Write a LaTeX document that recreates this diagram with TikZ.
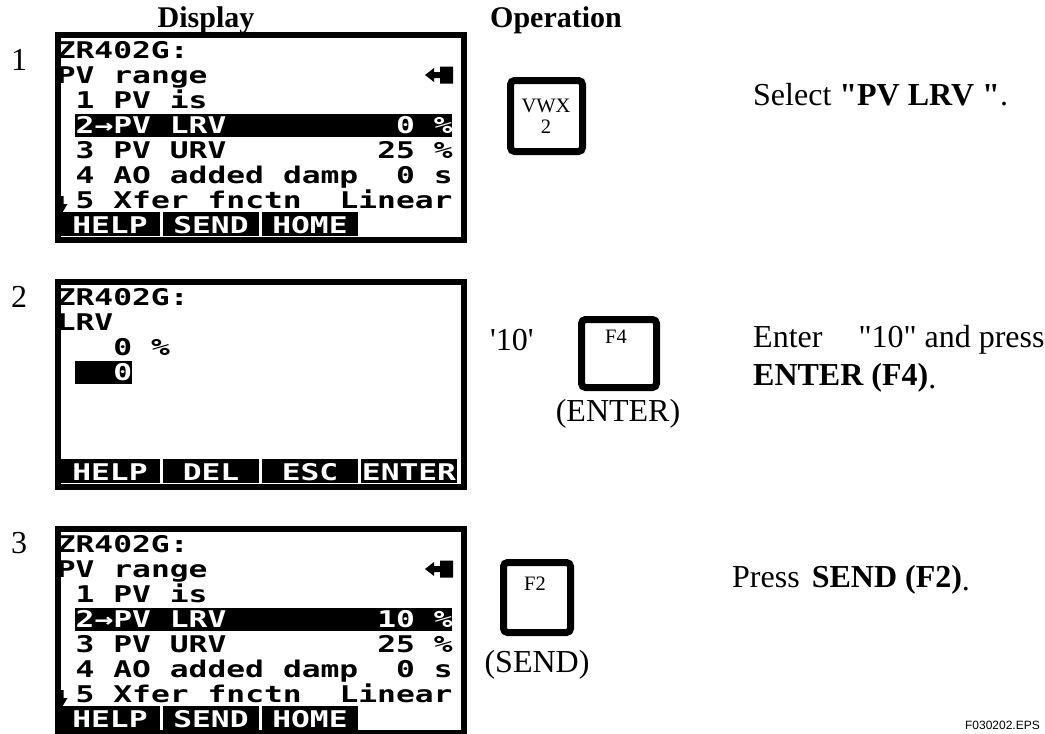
\documentclass[tikz,border=0pt]{standalone}
\usepackage{fontspec}
\setmainfont{Liberation Serif}[Ligatures=TeXOff]
\newfontfamily\lcdfont{DejaVu Sans Mono}[FakeStretch=1.36]
\newfontfamily\epsfont{Liberation Sans}

\begin{document}
\begin{tikzpicture}[x=1pt,y=-1pt,
  lcd/.style={anchor=base west,inner sep=0pt,font=\lcdfont\bfseries\fontsize{23}{23}\selectfont},
  inv/.style={lcd,text=white},
  softkey/.style={inv,anchor=base},
  screen/.style={line width=6pt},
  keybox/.style={line width=7pt,rounded corners=4pt},
  txt/.style={anchor=base west,inner sep=0pt,font=\fontsize{32}{38}\selectfont},
  head/.style={anchor=base,inner sep=0pt,font=\bfseries\fontsize{30}{36}\selectfont},
  num/.style={anchor=base,inner sep=0pt,font=\fontsize{32}{38}\selectfont},
  keylbl/.style={anchor=base,inner sep=0pt,font=\fontsize{20.5}{22}\selectfont}]
\useasboundingbox (0,0) rectangle (1045,734);

\node (hdisp) at (206,27)[head]{Display};
\node (hop) at (556,27)[head]{Operation};
\node (n1) at (19,70)[num]{1};
\node (n2) at (19,307)[num]{2};
\node (n3) at (19,553)[num]{3};

% screen 1
\draw[screen] (57.5,35) rectangle (463.5,240);
\node (a1) at (56.6,58.4)[lcd]{ZR402G:};
\node (a2) at (56.6,83.4)[lcd]{PV}; \node (a3) at (113.15,83.4)[lcd]{range};
\fill[shift={(0,75)}] (425,0)--(434,-7)--(434,-3)--(440,-3)--(440,-8.5)--(453,-8.5)--(453,8.5)--(440,8.5)--(440,3)--(434,3)--(434,7)--cycle;
\node (a4) at (75.45,108.4)[lcd]{1}; \node (a5) at (113.15,108.4)[lcd]{PV}; \node (a6) at (169.7,108.4)[lcd]{is};
\fill (75.45,114) rectangle (452.45,137);
\node (a7) at (75.45,133.4)[inv]{2}; \node (a8) at (94.3,133.4)[inv]{→};
\node (a9) at (113.15,133.4)[inv]{PV}; \node (a10) at (169.7,133.4)[inv]{LRV};
\node (a11) at (395.9,133.4)[inv]{0}; \node (a12) at (433.6,133.4)[inv]{\%};
\node (a13) at (75.45,158.4)[lcd]{3}; \node (a14) at (113.15,158.4)[lcd]{PV}; \node (a15) at (169.7,158.4)[lcd]{URV};
\node (a16) at (377.05,158.4)[lcd]{25}; \node (a17) at (433.6,158.4)[lcd]{\%};
\node (a18) at (75.45,183.4)[lcd]{4}; \node (a19) at (113.15,183.4)[lcd]{AO}; \node (a20) at (169.7,183.4)[lcd]{added};
\node (a21) at (282.8,183.4)[lcd]{damp}; \node (a22) at (395.9,183.4)[lcd]{0}; \node (a23) at (433.6,183.4)[lcd]{s};
\fill[shift={(0,200)}] (60.5,-4)--(63.5,-4)--(63.5,4)--(67.5,4)--(62,13)--(56.5,4)--(60.5,4)--cycle;
\node (a24) at (75.45,208.4)[lcd]{5}; \node (a25) at (113.15,208.4)[lcd]{Xfer};
\node (a26) at (207.4,208.4)[lcd]{fnctn}; \node (a27) at (339.35,208.4)[lcd]{Linear};
\fill (60,212) rectangle (160,236); \fill (163,212) rectangle (259,236); \fill (262,212) rectangle (358,236);
\node (a28) at (110,233.4)[softkey]{HELP}; \node (a29) at (211,233.4)[softkey]{SEND}; \node (a30) at (310,233.4)[softkey]{HOME};

% screen 2
\draw[screen] (57.5,282) rectangle (463.5,487);
\node (b1) at (56.6,305.4)[lcd]{ZR402G:};
\node (b2) at (56.6,330.4)[lcd]{LRV};
\node (b3) at (113.15,355.4)[lcd]{0}; \node (b4) at (150.85,355.4)[lcd]{\%};
\fill (75.45,361) rectangle (132,384);
\node (b5) at (113.15,380.4)[inv]{0};
\fill (60,459) rectangle (160,483); \fill (163,459) rectangle (259,483);
\fill (262,459) rectangle (358,483); \fill (361,459) rectangle (457,483);
\node (b6) at (110,480.4)[softkey]{HELP}; \node (b7) at (211,480.4)[softkey]{DEL};
\node (b8) at (310,480.4)[softkey]{ESC}; \node (b9) at (409,480.4)[softkey]{ENTER};

% screen 3
\draw[screen] (57.5,529) rectangle (463.5,733);
\node (c1) at (56.6,552.4)[lcd]{ZR402G:};
\node (c2) at (56.6,577.4)[lcd]{PV}; \node (c3) at (113.15,577.4)[lcd]{range};
\fill[shift={(0,569)}] (425,0)--(434,-7)--(434,-3)--(440,-3)--(440,-8.5)--(453,-8.5)--(453,8.5)--(440,8.5)--(440,3)--(434,3)--(434,7)--cycle;
\node (c4) at (75.45,602.4)[lcd]{1}; \node (c5) at (113.15,602.4)[lcd]{PV}; \node (c6) at (169.7,602.4)[lcd]{is};
\fill (75.45,608) rectangle (452.45,631);
\node (c7) at (75.45,627.4)[inv]{2}; \node (c8) at (94.3,627.4)[inv]{→};
\node (c9) at (113.15,627.4)[inv]{PV}; \node (c10) at (169.7,627.4)[inv]{LRV};
\node (c11) at (377.05,627.4)[inv]{10}; \node (c12) at (433.6,627.4)[inv]{\%};
\node (c13) at (75.45,652.4)[lcd]{3}; \node (c14) at (113.15,652.4)[lcd]{PV}; \node (c15) at (169.7,652.4)[lcd]{URV};
\node (c16) at (377.05,652.4)[lcd]{25}; \node (c17) at (433.6,652.4)[lcd]{\%};
\node (c18) at (75.45,677.4)[lcd]{4}; \node (c19) at (113.15,677.4)[lcd]{AO}; \node (c20) at (169.7,677.4)[lcd]{added};
\node (c21) at (282.8,677.4)[lcd]{damp}; \node (c22) at (395.9,677.4)[lcd]{0}; \node (c23) at (433.6,677.4)[lcd]{s};
\fill[shift={(0,694)}] (60.5,-4)--(63.5,-4)--(63.5,4)--(67.5,4)--(62,13)--(56.5,4)--(60.5,4)--cycle;
\node (c24) at (75.45,702.4)[lcd]{5}; \node (c25) at (113.15,702.4)[lcd]{Xfer};
\node (c26) at (207.4,702.4)[lcd]{fnctn}; \node (c27) at (339.35,702.4)[lcd]{Linear};
\fill (60,706) rectangle (160,730); \fill (163,706) rectangle (259,730); \fill (262,706) rectangle (358,730);
\node (c28) at (110,727.4)[softkey]{HELP}; \node (c29) at (211,727.4)[softkey]{SEND}; \node (c30) at (310,727.4)[softkey]{HOME};

% keys
\draw[keybox] (510.5,80.5) rectangle (582.5,151.5);
\node (k1a) at (546,112)[keylbl]{VWX};
\node (k1b) at (546,133)[keylbl]{2};
\node (ten) at (490,350)[txt]{'10'};
\draw[keybox] (581.5,319.5) rectangle (656.5,387.5);
\node (k2) at (616,343)[keylbl]{F4};
\node (k2lbl) at (618,421)[num]{(ENTER)};
\draw[keybox] (503.5,562.5) rectangle (570.5,632.5);
\node (k3) at (535,590)[keylbl]{F2};
\node (k3lbl) at (537,672)[num]{(SEND)};

% instructions
\node (s1) at (753,105)[txt]{Select \textbf{"PV LRV "}.};
\node (s2a) at (753,347)[txt]{Enter\hspace{36pt}"10" and press};
\node (s2b) at (753,385)[txt]{\textbf{ENTER (F4)}\raisebox{-3pt}{.}};
\node (s3) at (732,587)[txt]{Press\hspace{12pt}\textbf{SEND (F2)}\raisebox{-3pt}{.}};
\node (fig) at (1040,729)[anchor=base east,inner sep=0pt,font=\epsfont\fontsize{12}{14}\selectfont]{F030202.EPS};
\end{tikzpicture}
\end{document}
